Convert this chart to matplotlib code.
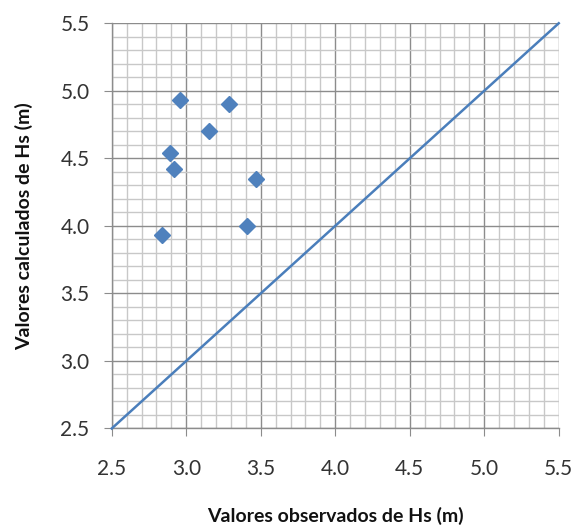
import matplotlib
matplotlib.use("Agg")
import matplotlib.pyplot as plt
import numpy as np
from matplotlib.ticker import MultipleLocator

plt.rcParams['font.family'] = ['Lato', 'DejaVu Sans']

# Observed vs computed significant wave height
hs_observed = [2.96, 3.29, 3.15, 2.89, 2.92, 3.47, 3.41, 2.84]
hs_computed = [4.93, 4.90, 4.70, 4.54, 4.42, 4.35, 4.00, 3.93]
line_ends = [2.5, 5.5]
tick_values = [2.5, 3.0, 3.5, 4.0, 4.5, 5.0, 5.5]

fig = plt.figure(figsize=(5.82, 5.29), dpi=100)
ax = fig.add_axes([0.192, 0.190, 0.768, 0.766])

ax.set_xlim(2.5, 5.5)
ax.set_ylim(2.5, 5.5)

ax.xaxis.set_minor_locator(MultipleLocator(0.1))
ax.yaxis.set_minor_locator(MultipleLocator(0.1))
ax.set_xticks(tick_values)
ax.set_yticks(tick_values)
ax.set_xticklabels([f"{v:.1f}" for v in tick_values])
ax.set_yticklabels([f"{v:.1f}" for v in tick_values])

ax.grid(which='minor', color='#c8c8c8', linewidth=1.0)
ax.grid(which='major', color='#8c8c8c', linewidth=1.0)
ax.set_axisbelow(True)

for side in ['top', 'right']:
    ax.spines[side].set_visible(False)
for side in ['left', 'bottom']:
    ax.spines[side].set_color('#8c8c8c')
    ax.spines[side].set_linewidth(1.0)

ax.tick_params(which='major', direction='out', length=6, color='#8c8c8c',
               labelsize=15, labelcolor='#333333')
ax.tick_params(which='minor', length=0)
ax.tick_params(axis='x', pad=16)
ax.tick_params(axis='y', pad=10)

ax.plot(line_ends, line_ends, color='#4a7ebb', linewidth=1.8, clip_on=False, zorder=3)
ax.plot(hs_observed, hs_computed, linestyle='none', marker='D', markersize=8.5,
        color='#4f81bd', markeredgecolor='#4f81bd', zorder=4)

ax.set_xlabel('Valores observados de Hs (m)', fontsize=14, fontweight='bold',
              labelpad=20, color='#111111')
ax.set_ylabel('Valores calculados de Hs (m)', fontsize=14, fontweight='bold',
              labelpad=20, color='#111111')

fig.savefig('out.png', dpi=100)
